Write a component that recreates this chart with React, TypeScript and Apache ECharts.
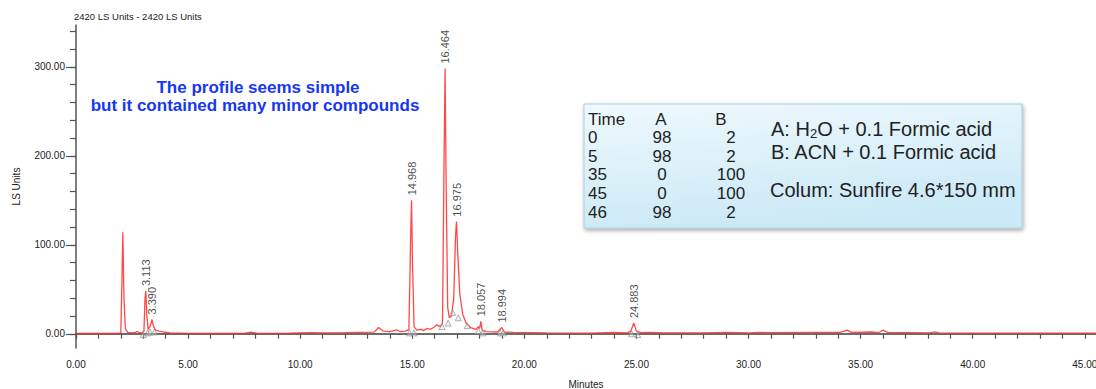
import React, { useEffect, useRef } from "react";
import * as echarts from "echarts";

// Chromatogram trace (minutes, LS Units)
const TIME_MIN = [
  0, 1.9, 2.0, 2.05, 2.09, 2.14, 2.2, 2.3, 2.5, 2.65, 2.73, 2.8, 2.95, 3.03, 3.08, 3.113, 3.16, 3.22, 3.3, 3.39,
  3.46, 3.55, 3.7, 3.9, 4.2, 5, 6, 7.5, 7.8, 8.1, 9.5, 10.5, 11, 12, 13.3, 13.5, 13.7, 14, 14.3, 14.45,
  14.7, 14.85, 14.93, 14.968, 15.01, 15.08, 15.2, 15.4, 15.5, 15.65, 15.8, 15.95, 16.1, 16.25, 16.35, 16.42, 16.464, 16.51, 16.58, 16.65,
  16.75, 16.85, 16.93, 16.975, 17.03, 17.12, 17.25, 17.4, 17.6, 17.85, 17.95, 18.01, 18.057, 18.12, 18.3, 18.8, 18.994, 19.1, 19.5, 21,
  23, 24, 24.6, 24.75, 24.883, 25.0, 25.2, 25.6, 26.2, 28, 29, 30, 30.5, 31, 33, 34.1, 34.4, 34.6, 35.5, 35.8,
  36.0, 36.2, 38.1, 38.3, 38.5, 40, 46,
];
const SIGNAL_LSU = [
  0.3, 0.3, 1, 60, 114, 40, 6, 1.5, 1, 1.5, 2.5, 1.5, 1, 3, 40, 48, 20, 5, 8, 16,
  8, 4, 3, 2, 1, 0.5, 0.3, 0.5, 1.8, 0.5, 0.6, 1.2, 1, 1.2, 1.8, 7, 3, 2.5, 4.5, 2.5,
  3, 5, 110, 150, 80, 8, 4, 5, 3.5, 6, 5, 7, 10, 8, 12, 200, 298, 170, 30, 18,
  20, 40, 110, 126, 90, 45, 22, 12, 7, 5, 8, 6, 14, 4, 2.5, 2, 7, 2, 1.5, 1,
  0.8, 1.4, 1, 3, 12, 3, 1.2, 1.5, 1, 1, 1.5, 1, 1.6, 1.2, 1.5, 1.5, 4, 1.5, 2, 1.2,
  4, 1.5, 1, 2, 1, 0.8, 0.6,
];

// Integrated peaks
const PEAK_TIMES = [3.113, 3.39, 14.968, 16.464, 16.975, 18.057, 18.994, 24.883];
const PEAK_HEIGHTS = [48, 16, 150, 298, 126, 14, 7, 12];
const PEAK_LABELS = ["3.113", "3.390", "14.968", "16.464", "16.975", "18.057", "18.994", "24.883"];

// Peak start/end markers (grey triangles)
const MARKER_TIMES = [3.0, 3.2, 3.3, 3.5, 14.88, 15.08, 16.33, 16.6, 16.8, 17.05, 17.45, 17.95, 18.15, 18.92, 19.06, 24.78, 25.06];
const MARKER_VALUES = [-1, 1, 2, 2, 1, 1, 8, 12, 24, 18, 9, 3, 1, 1, 1, 0, -1];

// Axis ticks
const Y_MAJOR = [0, 100, 200, 300];
const Y_MINOR = [0, 20, 40, 60, 80, 100, 120, 140, 160, 180, 200, 220, 240, 260, 280, 300, 320, 340];
const X_MAJOR = [0, 5, 10, 15, 20, 25, 30, 35, 40, 45];
const X_MINOR = Array.from({ length: 46 }, (_, i) => i);

// Gradient program table
const GRAD_TIME = ["0", "5", "35", "45", "46"];
const GRAD_A = ["98", "98", "0", "0", "98"];
const GRAD_B = ["2", "2", "100", "100", "2"];

const NARROW = "'Liberation Sans Narrow', 'Arial Narrow', 'Liberation Sans', Arial, sans-serif";
const SANS = "'Liberation Sans', Helvetica, Arial, sans-serif";

export default function App() {
  const ref = useRef<HTMLDivElement>(null);
  useEffect(() => {
    if (!ref.current) return;
    const chart = echarts.init(ref.current, null, { renderer: "svg" });
    const trace = TIME_MIN.map((t, i) => [t, SIGNAL_LSU[i]]);
    const peaks = PEAK_TIMES.map((t, i) => ({ value: [t, PEAK_HEIGHTS[i]], name: PEAK_LABELS[i] }));
    const markers = MARKER_TIMES.map((t, i) => [t, MARKER_VALUES[i]]);

    const boxX = 584, boxY = 104, rowH = 18.6;
    const tf = `17px ${SANS}`;
    const tableTexts: any[] = [];
    const rowY = (i: number) => 119 + rowH * i;
    tableTexts.push({ type: "text", x: boxX + 4, y: rowY(0), style: { text: "Time", font: tf, fill: "#222", textVerticalAlign: "middle" } });
    tableTexts.push({ type: "text", x: 661, y: rowY(0), style: { text: "A", font: tf, fill: "#222", textAlign: "center", textVerticalAlign: "middle" } });
    tableTexts.push({ type: "text", x: 721, y: rowY(0), style: { text: "B", font: tf, fill: "#222", textAlign: "center", textVerticalAlign: "middle" } });
    GRAD_TIME.forEach((t, i) => {
      const y = rowY(i + 1);
      tableTexts.push({ type: "text", x: boxX + 4, y, style: { text: t, font: tf, fill: "#222", textVerticalAlign: "middle" } });
      tableTexts.push({ type: "text", x: 662, y, style: { text: GRAD_A[i], font: tf, fill: "#222", textAlign: "center", textVerticalAlign: "middle" } });
      tableTexts.push({ type: "text", x: 731, y, style: { text: GRAD_B[i], font: tf, fill: "#222", textAlign: "center", textVerticalAlign: "middle" } });
    });

    chart.setOption({
      animation: false,
      backgroundColor: "#fff",
      title: {
        text: "2420 LS Units - 2420 LS Units",
        left: 74,
        top: 11,
        padding: 0,
        textStyle: { fontSize: 9.5, fontWeight: "normal", color: "#222", fontFamily: NARROW },
      },
      grid: { left: 76, right: 0, top: 25, bottom: 41, outerBoundsMode: "none", containLabel: false },
      xAxis: [
        {
          type: "value",
          min: 0,
          max: 45.5,
          position: "bottom",
          name: "Minutes",
          nameLocation: "middle",
          nameGap: 31,
          nameTextStyle: { fontSize: 10, color: "#222", fontFamily: NARROW },
          axisLine: { show: true, lineStyle: { color: "#555", width: 1.5 } },
          axisTick: { show: true, customValues: X_MINOR, length: 5, lineStyle: { color: "#555", width: 1.2 } },
          axisLabel: {
            show: true,
            customValues: X_MAJOR,
            margin: 11,
            fontSize: 10,
            color: "#222",
            fontFamily: NARROW,
            formatter: (v: number) => v.toFixed(2),
          },
          splitLine: { show: false },
        },
        {
          type: "value",
          min: 0,
          max: 45.5,
          position: "top",
          axisLine: { show: true, lineStyle: { color: "#666", width: 1.5 } },
          axisTick: { show: false },
          axisLabel: { show: false },
          splitLine: { show: false },
        },
      ],
      yAxis: [
        {
          type: "value",
          min: -16,
          max: 347,
          name: "LS Units",
          nameLocation: "middle",
          nameGap: 55,
          nameTextStyle: { fontSize: 10, color: "#222", fontFamily: NARROW },
          axisLine: { show: true, lineStyle: { color: "#555", width: 1.5 } },
          axisTick: { show: true, customValues: Y_MAJOR, length: 10, lineStyle: { color: "#555", width: 1.2 } },
          axisLabel: {
            show: true,
            customValues: Y_MAJOR,
            margin: 11,
            fontSize: 10,
            color: "#222",
            fontFamily: NARROW,
            formatter: (v: number) => v.toFixed(2),
          },
          splitLine: { show: false },
        },
        {
          type: "value",
          min: -16,
          max: 347,
          position: "left",
          axisLine: { show: false },
          axisTick: { show: true, customValues: Y_MINOR, length: 6, lineStyle: { color: "#555", width: 1.2 } },
          axisLabel: { show: false },
          splitLine: { show: false },
        },
      ],
      series: [
        {
          type: "line",
          data: trace,
          symbol: "none",
          lineStyle: { color: "rgba(255,40,40,0.85)", width: 1.3 },
          z: 3,
        },
        {
          type: "scatter",
          data: markers,
          symbol: "triangle",
          symbolSize: 6,
          itemStyle: { color: "rgba(220,220,220,0.5)", borderColor: "#888", borderWidth: 0.8 },
          z: 4,
        },
        {
          type: "scatter",
          data: peaks,
          symbolSize: 0,
          label: {
            show: true,
            position: "top",
            distance: 5,
            rotate: 90,
            align: "left",
            verticalAlign: "middle",
            formatter: (p: any) => p.name,
            fontSize: 11,
            color: "#1a1a1a",
            fontFamily: SANS,
          },
          z: 5,
        },
      ],
      graphic: [
        {
          type: "text",
          x: 258,
          y: 87,
          style: {
            text: "The profile seems simple",
            font: `bold 17px ${SANS}`,
            fill: "#1538f2",
            textAlign: "center",
            textVerticalAlign: "middle",
          },
        },
        {
          type: "text",
          x: 255,
          y: 105,
          style: {
            text: "but it contained many minor compounds",
            font: `bold 17px ${SANS}`,
            fill: "#1538f2",
            textAlign: "center",
            textVerticalAlign: "middle",
          },
        },
        {
          type: "rect",
          shape: { x: boxX, y: boxY, width: 438, height: 124 },
          style: {
            fill: new echarts.graphic.LinearGradient(0, 0, 0.3, 1, [
              { offset: 0, color: "#eef9fd" },
              { offset: 1, color: "#cbe9f6" },
            ]),
            stroke: "#a9cfe0",
            lineWidth: 1,
            shadowBlur: 4,
            shadowOffsetX: 1,
            shadowOffsetY: 2,
            shadowColor: "rgba(0,0,0,0.35)",
          },
          z: 10,
        },
        ...tableTexts.map((t) => ({ ...t, z: 11 })),
        {
          type: "text",
          x: 771,
          y: 117,
          z: 11,
          style: {
            text: "{n|A: H}{s|2}{n|O + 0.1 Formic acid}",
            rich: {
              n: { fontSize: 20, fontFamily: SANS, fill: "#222", color: "#222", lineHeight: 23 },
              s: { fontSize: 13, fontFamily: SANS, fill: "#222", color: "#222", lineHeight: 23, padding: [10, 0, 0, 0] },
            },
          },
        },
        {
          type: "text",
          x: 771,
          y: 152,
          z: 11,
          style: { text: "B: ACN + 0.1 Formic acid", font: `20px ${SANS}`, fill: "#222", textVerticalAlign: "middle" },
        },
        {
          type: "text",
          x: 770,
          y: 190,
          z: 11,
          style: { text: "Colum: Sunfire 4.6*150 mm", font: `20px ${SANS}`, fill: "#222", textVerticalAlign: "middle" },
        },
      ],
    });
    return () => chart.dispose();
  }, []);
  return (
    <div
      ref={ref}
      style={{ position: "absolute", left: 0, top: 0, width: 1096, height: 389, background: "#fff" }}
    />
  );
}
